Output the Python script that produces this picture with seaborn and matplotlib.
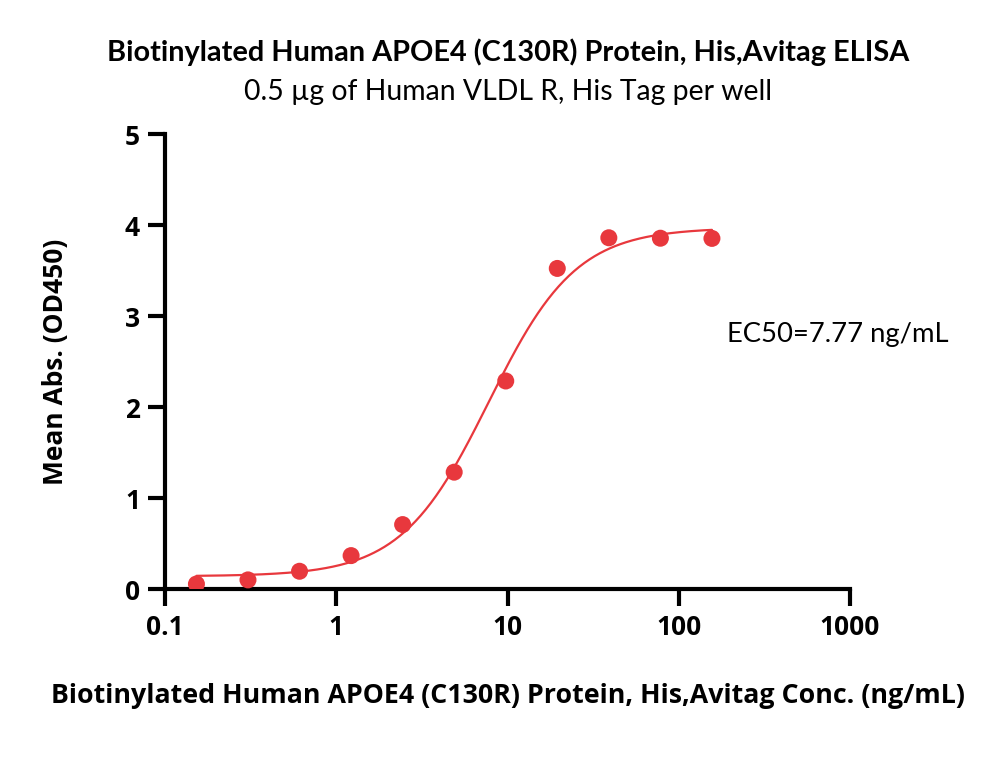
import numpy as np
import pandas as pd
import matplotlib
matplotlib.use('Agg')
import matplotlib.pyplot as plt
import seaborn as sns

# concentrations (ng/mL), 2-fold dilution series
conc = [0.1526, 0.3052, 0.6104, 1.221, 2.441, 4.883, 9.766, 19.53, 39.06, 78.13, 156.25]
od450 = [0.055, 0.10, 0.195, 0.367, 0.708, 1.284, 2.286, 3.523, 3.86, 3.855, 3.853]

# 4PL fit parameters
fit_bottom = 0.14
fit_top = 3.97
fit_ec50 = 7.77
fit_hill = 1.7

red = '#E8383D'

sns.set_theme(style='white')
plt.rcParams['font.family'] = ['Open Sans', 'DejaVu Sans']
plt.rcParams['text.color'] = 'black'
plt.rcParams['axes.labelcolor'] = 'black'
plt.rcParams['xtick.color'] = 'black'
plt.rcParams['ytick.color'] = 'black'

df = pd.DataFrame({'conc': conc, 'od': od450})
xfit = np.logspace(np.log10(conc[0]), np.log10(conc[-1]), 300)
yfit = fit_bottom + (fit_top - fit_bottom) / (1 + (fit_ec50 / xfit) ** fit_hill)
fit_df = pd.DataFrame({'conc': xfit, 'od': yfit})

fig = plt.figure(figsize=(10, 7.82), dpi=100)
ax = fig.add_axes([0.165, 0.2468, 0.685, 0.5818])

sns.lineplot(data=fit_df, x='conc', y='od', color=red, lw=1.6, ax=ax)
sns.scatterplot(data=df, x='conc', y='od', color=red, s=150, edgecolor='none', ax=ax, zorder=3)

ax.set_xscale('log')
ax.set_xlim(0.1, 1000)
ax.set_ylim(0, 5)
ax.set_xticks([0.1, 1, 10, 100, 1000])
ax.set_xticklabels(['0.1', '1', '10', '100', '1000'])
ax.set_yticks([0, 1, 2, 3, 4, 5])
ax.minorticks_off()
ax.tick_params(axis='both', length=12, width=3, colors='black', direction='out',
               labelsize=19, pad=6, bottom=True, left=True)
for lbl in ax.get_xticklabels() + ax.get_yticklabels():
    lbl.set_fontweight('bold')
for side in ['top', 'right']:
    ax.spines[side].set_visible(False)
for side in ['left', 'bottom']:
    ax.spines[side].set_linewidth(3)
    ax.spines[side].set_color('black')
    ax.spines[side].set_capstyle('projecting')

ax.set_xlabel('Biotinylated Human APOE4 (C130R) Protein, His,Avitag Conc. (ng/mL)',
              fontsize=19.3, fontweight='bold', labelpad=30)
ax.set_ylabel('Mean Abs. (OD450)', fontsize=19, fontweight='bold', labelpad=40)

fig.text(0.508, 0.933, 'Biotinylated Human APOE4 (C130R) Protein, His,Avitag ELISA',
         ha='center', va='center', fontsize=20.8, fontweight='bold', family=['Lato', 'DejaVu Sans'])
fig.text(0.508, 0.882, '0.5 µg of Human VLDL R, His Tag per well',
         ha='center', va='center', fontsize=20.4, family=['Lato', 'DejaVu Sans'])
ax.text(0.82, 0.56, 'EC50=7.77 ng/mL', transform=ax.transAxes, ha='left', va='center',
        fontsize=19.7, family=['Lato', 'DejaVu Sans'])

fig.savefig('out.png', dpi=100)
